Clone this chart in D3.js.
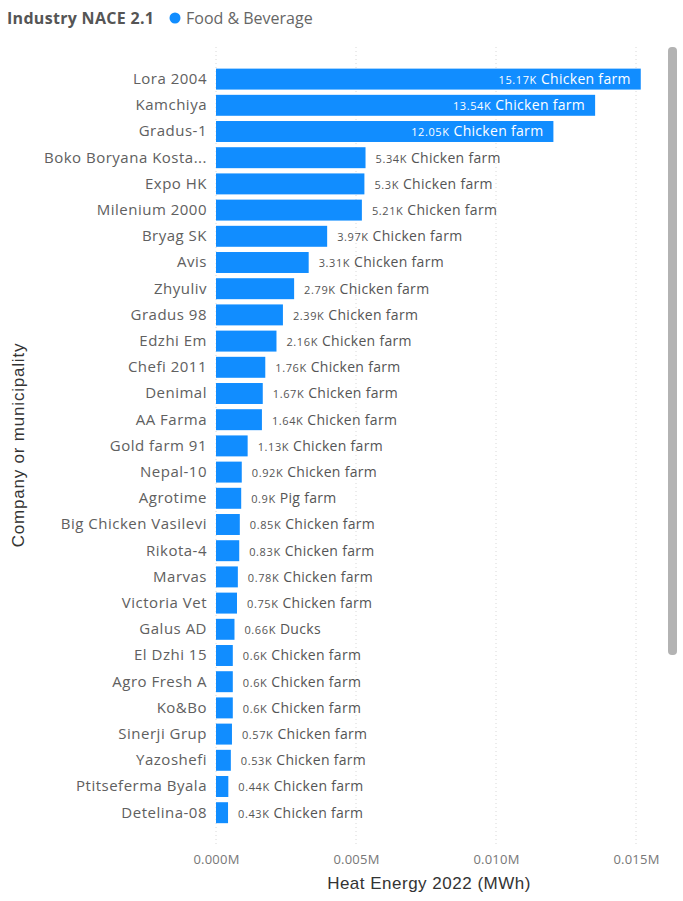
<!DOCTYPE html>
<html>
<head>
<meta charset="utf-8">
<script src="https://cdn.jsdelivr.net/npm/d3@7"></script>
<style>
  body { margin: 0; background: #fff; }
  svg { display: block; font-family: "Segoe UI", "Open Sans", sans-serif; }
</style>
</head>
<body>
<div id="chart"></div>
<script>
const names = ['Lora 2004', 'Kamchiya', 'Gradus-1', 'Boko Boryana Kosta...', 'Expo HK', 'Milenium 2000',
  'Bryag SK', 'Avis', 'Zhyuliv', 'Gradus 98', 'Edzhi Em', 'Chefi 2011', 'Denimal', 'AA Farma',
  'Gold farm 91', 'Nepal-10', 'Agrotime', 'Big Chicken Vasilevi', 'Rikota-4', 'Marvas',
  'Victoria Vet', 'Galus AD', 'El Dzhi 15', 'Agro Fresh A', 'Ko&Bo', 'Sinerji Grup',
  'Yazoshefi', 'Ptitseferma Byala', 'Detelina-08'];
// heat energy in MWh
const values = [15170, 13540, 12050, 5340, 5300, 5210, 3970, 3310, 2790, 2390, 2160, 1760, 1670, 1640,
  1130, 920, 900, 850, 830, 780, 750, 660, 600, 600, 600, 570, 530, 440, 430];
const farmTypes = ['Chicken farm', 'Chicken farm', 'Chicken farm', 'Chicken farm', 'Chicken farm', 'Chicken farm',
  'Chicken farm', 'Chicken farm', 'Chicken farm', 'Chicken farm', 'Chicken farm', 'Chicken farm', 'Chicken farm', 'Chicken farm',
  'Chicken farm', 'Chicken farm', 'Pig farm', 'Chicken farm', 'Chicken farm', 'Chicken farm',
  'Chicken farm', 'Ducks', 'Chicken farm', 'Chicken farm', 'Chicken farm', 'Chicken farm',
  'Chicken farm', 'Chicken farm', 'Chicken farm'];
const xTicks = [0, 5000, 10000, 15000];

const data = names.map((name, i) => ({ name, value: values[i], type: farmTypes[i] }));

const width = 683, height = 901;
const blue = '#118DFF';
const font = '"Segoe UI", "Open Sans", sans-serif';

const svg = d3.select('#chart').append('svg')
  .attr('width', width)
  .attr('height', height);

const x = d3.scaleLinear([0, 15000], [216, 636]);
const y = d3.scaleBand()
  .domain(names)
  .range([66, 66 + 26.2 * names.length])
  .paddingInner(0.2)
  .paddingOuter(0.1);

// legend
svg.append('text')
  .attr('x', 7).attr('y', 24)
  .attr('fill', '#555')
  .style('font-size', '16px')
  .style('font-weight', 'bold')
  .style('letter-spacing', '0.3px')
  .text('Industry NACE 2.1');
svg.append('circle')
  .attr('cx', 175).attr('cy', 18).attr('r', 5.5)
  .attr('fill', blue);
svg.append('text')
  .attr('x', 186).attr('y', 24)
  .attr('fill', '#666')
  .style('font-size', '16px')
  .text('Food & Beverage');

// gridlines (dotted)
svg.append('g')
  .selectAll('line')
  .data(xTicks)
  .join('line')
  .attr('x1', d => x(d)).attr('x2', d => x(d))
  .attr('y1', 47).attr('y2', 845)
  .attr('stroke', '#d8d8d8')
  .attr('stroke-dasharray', '1,3');

// x axis
const xAxis = d3.axisBottom(x)
  .tickValues(xTicks)
  .tickFormat(d => d3.format('.3f')(d / 1e6) + 'M')
  .tickSize(0)
  .tickPadding(0);
svg.append('g')
  .attr('transform', 'translate(0,855)')
  .call(xAxis)
  .call(g => g.select('.domain').remove())
  .call(g => g.selectAll('text')
    .attr('fill', '#777')
    .style('font-size', '13px')
    .style('letter-spacing', '0.2px')
    .style('font-family', font));

svg.append('text')
  .attr('x', 429).attr('y', 889)
  .attr('text-anchor', 'middle')
  .attr('fill', '#333')
  .style('font-family', '"Liberation Sans", Arial, sans-serif')
  .style('font-size', '17px')
  .style('letter-spacing', '0.5px')
  .text('Heat Energy 2022 (MWh)');

// y axis
const yAxis = d3.axisLeft(y).tickSize(0).tickPadding(9);
svg.append('g')
  .attr('transform', `translate(${x(0)},0)`)
  .call(yAxis)
  .call(g => g.select('.domain').remove())
  .call(g => g.selectAll('text')
    .attr('fill', '#606060')
    .style('font-size', '15px')
    .style('letter-spacing', '0.5px')
    .style('font-family', font));

svg.append('text')
  .attr('transform', 'translate(24,445) rotate(-90)')
  .attr('text-anchor', 'middle')
  .attr('fill', '#333')
  .style('font-family', '"Liberation Sans", Arial, sans-serif')
  .style('font-size', '17px')
  .style('letter-spacing', '0.8px')
  .text('Company or municipality');

// bars
svg.append('g')
  .selectAll('rect')
  .data(data)
  .join('rect')
  .attr('x', x(0))
  .attr('y', d => y(d.name))
  .attr('width', d => x(d.value) - x(0))
  .attr('height', y.bandwidth())
  .attr('fill', blue);

// data labels
const fmt = d3.format('.2~f');
const inside = d => d.value > 10000;
const label = svg.append('g')
  .selectAll('text')
  .data(data)
  .join('text')
  .attr('x', d => inside(d) ? x(d.value) - 10 : x(d.value) + 10)
  .attr('y', d => y(d.name) + y.bandwidth() / 2)
  .attr('dy', '0.35em')
  .attr('text-anchor', d => inside(d) ? 'end' : 'start')
  .attr('fill', d => inside(d) ? '#fff' : '#555')
  .style('font-size', '14px');
label.append('tspan')
  .style('font-size', '11px')
  .style('letter-spacing', '0.6px')
  .text(d => fmt(d.value / 1000) + 'K');
label.append('tspan')
  .style('letter-spacing', '0.3px')
  .text(d => ' ' + d.type);

// scrollbar
svg.append('rect')
  .attr('x', 668).attr('y', 47)
  .attr('width', 9).attr('height', 608)
  .attr('rx', 4)
  .attr('fill', '#b3b3b3');
</script>
</body>
</html>
